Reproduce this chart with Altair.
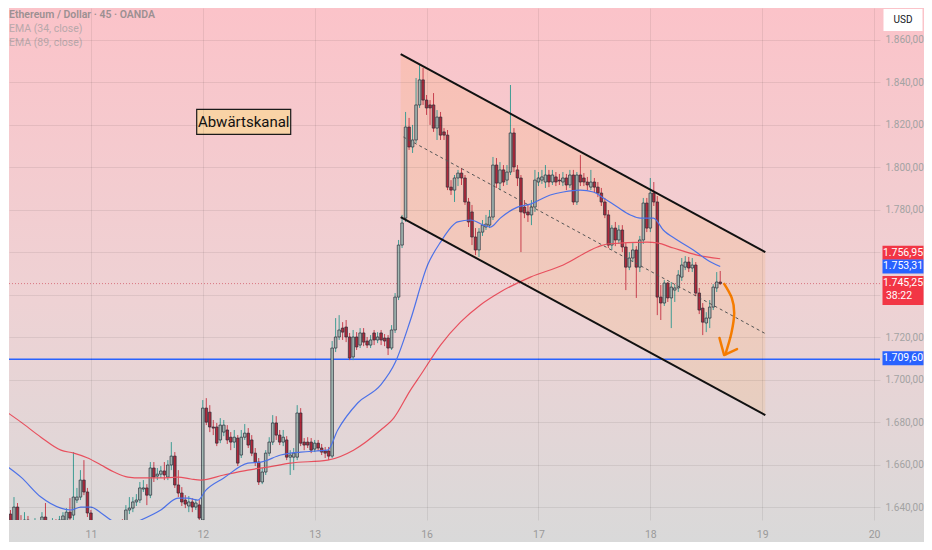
import altair as alt
import pandas as pd

# ---------------- axis ticks / labels ----------------
day_pos = [0, 32, 64, 96, 128, 160, 192, 224]
day_lab = ["11", "12", "13", "16", "17", "18", "19", "20"]
price_ticks = [1640, 1660, 1680, 1700, 1720, 1740, 1760, 1780, 1800, 1820, 1840, 1860]
hidden_ticks = [1740, 1760]

# ---------------- 45-minute candles (bar index, 32 bars per day) ----------------
first_bar = -25
opens = [
    1647.1, 1637.6, 1636.7, 1631.5, 1640.0, 1632.9, 1631.5, 1633.9, 1631.0, 1629.2,
    1632.0, 1630.1, 1635.3, 1631.5, 1630.6, 1632.9, 1631.0, 1633.9, 1631.5, 1637.6,
    1636.2, 1643.3, 1644.7, 1652.7, 1647.1,
    1637.2, 1631.5, 1629.2, 1631.0, 1627.7, 1626.3, 1628.7, 1626.8, 1629.6, 1631.0,
    1630.6, 1638.6, 1639.5, 1642.4, 1643.3, 1648.5, 1649.0, 1645.6, 1658.4, 1654.6,
    1655.5, 1657.0, 1654.1, 1659.8, 1664.0, 1650.4, 1646.6, 1643.3, 1640.5, 1642.4,
    1640.0, 1641.0, 1633.9, 1686.6, 1684.7, 1677.7, 1677.7, 1671.6, 1675.3, 1676.3,
    1672.9, 1670.6, 1672.5, 1664.5, 1672.9, 1674.8, 1671.6, 1665.4, 1661.2, 1651.8,
    1656.5, 1665.4, 1670.6, 1679.6, 1673.9, 1670.6, 1671.6, 1663.5, 1663.5, 1663.5,
    1684.3, 1670.6, 1670.6, 1670.6, 1667.3, 1670.1, 1667.8, 1666.4, 1666.4, 1664.0,
    1714.9, 1720.1, 1724.3, 1724.8, 1720.1, 1710.7, 1720.1, 1716.3, 1722.0, 1718.2,
    1716.3, 1722.0, 1718.7, 1722.0, 1719.6, 1719.6, 1714.9, 1723.4, 1738.9, 1763.4,
    1776.1, 1819.0, 1809.6, 1812.9, 1829.4, 1841.2, 1831.7, 1829.4, 1829.4, 1818.5,
    1823.7, 1816.7, 1815.2, 1790.7, 1789.3, 1795.0, 1797.3, 1795.0, 1783.7, 1779.0,
    1767.2, 1761.1, 1769.5, 1771.9, 1772.8, 1776.6, 1801.1, 1792.6, 1798.8, 1794.0,
    1797.8, 1816.2, 1798.8, 1795.0, 1781.3, 1779.0, 1777.6, 1781.3, 1793.1, 1794.0,
    1793.1, 1796.4, 1793.1, 1795.5, 1794.0, 1793.1, 1795.0, 1791.7, 1796.4, 1783.7,
    1796.4, 1795.0, 1793.1, 1790.7, 1793.1, 1790.7, 1787.9, 1783.7, 1777.6, 1763.4,
    1771.4, 1765.8, 1770.5, 1762.5, 1753.0, 1757.3, 1761.1, 1753.0, 1765.8, 1783.2,
    1771.4, 1787.9, 1783.7, 1738.9, 1736.1, 1745.5, 1738.5, 1742.2, 1743.2, 1748.3,
    1753.0, 1755.4, 1752.6, 1754.0, 1740.8, 1733.7, 1726.7, 1729.0, 1734.2, 1743.2,
    1746.0,
]
highs = [
    1649.0, 1640.9, 1638.6, 1644.7, 1641.9, 1636.2, 1637.6, 1635.8, 1632.9, 1634.8,
    1632.9, 1637.6, 1641.9, 1633.9, 1634.8, 1634.3, 1635.8, 1637.6, 1639.5, 1644.2,
    1665.9, 1649.0, 1657.4, 1662.1, 1649.0,
    1638.6, 1633.9, 1632.9, 1632.0, 1630.1, 1630.6, 1631.5, 1632.9, 1633.9, 1634.3,
    1640.9, 1644.7, 1644.7, 1646.1, 1651.8, 1652.7, 1650.8, 1661.2, 1661.2, 1658.4,
    1659.3, 1661.2, 1662.1, 1670.6, 1665.9, 1657.4, 1649.4, 1645.6, 1645.2, 1644.2,
    1643.8, 1643.3, 1690.4, 1691.3, 1688.0, 1681.0, 1679.6, 1681.9, 1681.0, 1678.6,
    1675.3, 1676.3, 1673.9, 1676.3, 1679.1, 1677.2, 1673.9, 1667.8, 1663.1, 1658.4,
    1666.8, 1672.9, 1683.3, 1682.8, 1676.3, 1676.3, 1673.4, 1666.8, 1667.8, 1688.0,
    1686.6, 1672.5, 1672.9, 1672.5, 1671.6, 1671.6, 1669.7, 1668.3, 1668.3, 1718.2,
    1729.0, 1730.4, 1727.1, 1728.1, 1722.0, 1723.4, 1722.4, 1724.3, 1724.3, 1720.1,
    1721.0, 1723.4, 1722.4, 1723.4, 1721.5, 1721.0, 1725.7, 1740.8, 1765.8, 1777.6,
    1826.1, 1823.3, 1820.0, 1842.1, 1848.2, 1846.8, 1834.1, 1831.7, 1835.0, 1827.0,
    1826.1, 1818.5, 1817.6, 1794.0, 1796.4, 1798.8, 1799.7, 1796.4, 1785.6, 1782.3,
    1771.4, 1771.4, 1775.2, 1777.6, 1779.9, 1804.9, 1804.4, 1802.5, 1801.1, 1801.1,
    1838.8, 1818.5, 1801.1, 1796.4, 1784.6, 1782.3, 1784.6, 1798.8, 1797.8, 1798.8,
    1801.1, 1798.8, 1798.8, 1797.8, 1796.9, 1797.8, 1796.9, 1798.8, 1798.8, 1797.8,
    1805.8, 1797.3, 1795.5, 1798.8, 1795.0, 1793.1, 1790.3, 1785.6, 1779.9, 1772.8,
    1774.3, 1772.8, 1772.8, 1764.4, 1760.1, 1764.4, 1762.9, 1767.7, 1785.6, 1785.6,
    1795.0, 1793.1, 1786.5, 1744.6, 1746.9, 1746.0, 1746.0, 1744.6, 1751.6, 1757.3,
    1758.2, 1757.8, 1757.3, 1755.4, 1743.2, 1736.1, 1731.8, 1737.5, 1745.0, 1750.7,
    1751.2,
]
lows = [
    1633.9, 1632.9, 1630.1, 1630.1, 1629.2, 1629.2, 1630.1, 1628.2, 1627.3, 1627.7,
    1628.7, 1629.2, 1630.1, 1628.7, 1629.2, 1629.6, 1630.1, 1632.0, 1630.6, 1632.9,
    1633.9, 1641.9, 1643.3, 1645.6, 1635.3,
    1629.2, 1626.3, 1626.8, 1624.4, 1623.5, 1624.4, 1624.4, 1625.4, 1627.7, 1628.2,
    1629.2, 1636.7, 1637.6, 1640.5, 1641.9, 1647.1, 1640.9, 1644.2, 1651.8, 1652.7,
    1653.7, 1652.7, 1652.7, 1657.4, 1649.0, 1644.7, 1640.5, 1639.5, 1637.6, 1637.6,
    1638.6, 1632.0, 1632.5, 1678.6, 1675.3, 1673.9, 1668.7, 1670.1, 1673.4, 1669.7,
    1666.8, 1667.8, 1659.3, 1663.1, 1671.6, 1667.8, 1664.0, 1659.3, 1650.4, 1650.8,
    1655.1, 1664.0, 1669.2, 1671.6, 1669.2, 1668.7, 1662.1, 1655.1, 1657.4, 1662.1,
    1668.7, 1666.8, 1667.8, 1665.4, 1665.9, 1666.4, 1664.5, 1663.1, 1662.1, 1663.1,
    1713.0, 1718.7, 1718.7, 1717.7, 1709.2, 1709.2, 1714.0, 1714.9, 1715.8, 1714.9,
    1714.9, 1716.3, 1717.2, 1716.3, 1715.8, 1711.6, 1714.0, 1722.0, 1737.5, 1762.0,
    1774.3, 1808.2, 1806.8, 1811.5, 1828.0, 1829.4, 1824.7, 1820.0, 1816.7, 1812.9,
    1812.9, 1812.9, 1789.3, 1787.0, 1783.7, 1791.2, 1791.7, 1782.3, 1771.9, 1763.4,
    1758.7, 1757.8, 1767.7, 1770.5, 1771.4, 1775.2, 1790.3, 1789.3, 1791.2, 1791.7,
    1796.4, 1797.8, 1791.2, 1760.1, 1776.1, 1774.3, 1772.8, 1779.0, 1791.2, 1792.2,
    1790.3, 1790.7, 1791.7, 1791.2, 1791.7, 1791.2, 1789.3, 1790.3, 1782.3, 1782.3,
    1791.2, 1791.2, 1789.3, 1789.3, 1788.4, 1786.0, 1781.8, 1776.1, 1762.0, 1761.1,
    1762.9, 1763.9, 1760.1, 1742.2, 1751.6, 1755.4, 1738.5, 1750.7, 1763.9, 1769.5,
    1769.5, 1781.8, 1730.4, 1728.1, 1734.7, 1736.6, 1724.3, 1736.6, 1741.3, 1746.5,
    1751.6, 1750.7, 1750.7, 1739.4, 1730.9, 1721.0, 1722.4, 1724.3, 1732.8, 1741.3,
    1744.6,
]
closes = [
    1636.2, 1634.8, 1632.0, 1640.0, 1631.5, 1631.5, 1633.9, 1631.0, 1629.2, 1632.0,
    1630.1, 1635.3, 1631.5, 1630.6, 1632.9, 1631.0, 1633.9, 1635.8, 1637.6, 1634.8,
    1644.7, 1644.7, 1652.7, 1647.1, 1637.2,
    1631.5, 1629.2, 1631.0, 1627.7, 1626.3, 1628.7, 1626.8, 1629.6, 1631.0, 1630.6,
    1638.6, 1639.5, 1642.4, 1643.3, 1649.0, 1649.0, 1645.6, 1658.4, 1654.1, 1655.5,
    1657.0, 1655.1, 1659.8, 1664.0, 1650.4, 1646.6, 1642.4, 1641.4, 1642.4, 1640.0,
    1641.9, 1634.8, 1686.6, 1680.0, 1677.7, 1677.2, 1670.1, 1678.6, 1678.6, 1671.6,
    1670.6, 1672.9, 1660.7, 1672.9, 1674.8, 1669.2, 1665.4, 1661.2, 1651.8, 1656.5,
    1665.4, 1670.6, 1679.6, 1673.9, 1670.6, 1672.9, 1663.5, 1664.5, 1665.4, 1684.3,
    1670.1, 1669.2, 1669.2, 1666.8, 1670.1, 1667.8, 1665.9, 1665.4, 1664.0, 1714.9,
    1720.1, 1723.4, 1722.4, 1720.1, 1710.2, 1720.1, 1715.4, 1722.0, 1717.7, 1716.3,
    1718.7, 1718.7, 1720.1, 1718.7, 1718.2, 1714.9, 1723.4, 1738.9, 1763.4, 1773.8,
    1819.0, 1809.6, 1812.9, 1829.4, 1841.2, 1831.7, 1828.0, 1828.0, 1818.5, 1823.7,
    1815.2, 1815.2, 1790.7, 1789.3, 1795.0, 1797.3, 1795.0, 1783.7, 1774.3, 1767.2,
    1761.1, 1769.5, 1772.8, 1773.3, 1776.6, 1801.1, 1792.6, 1798.8, 1793.1, 1797.8,
    1816.2, 1800.2, 1795.0, 1779.0, 1778.5, 1777.6, 1781.3, 1794.0, 1795.0, 1795.5,
    1796.4, 1793.1, 1796.4, 1793.1, 1793.6, 1795.0, 1791.7, 1796.4, 1783.7, 1796.4,
    1793.1, 1793.1, 1791.7, 1793.1, 1790.7, 1787.9, 1783.7, 1777.6, 1763.4, 1771.4,
    1765.8, 1770.5, 1762.5, 1753.0, 1757.3, 1761.1, 1753.0, 1765.8, 1783.2, 1771.4,
    1787.9, 1783.7, 1738.9, 1736.1, 1745.5, 1738.5, 1743.6, 1743.2, 1749.3, 1754.0,
    1755.4, 1752.6, 1754.0, 1740.8, 1732.8, 1727.1, 1729.0, 1734.2, 1743.6, 1746.0,
    1745.25,
]

# ---------------- EMA lines ----------------
ema34_i = [-25.7, -20, -14.3, -8.6, -5.7, -2.9, 0, 2.9, 5.7, 8.6, 11.4, 14.3, 20, 24.9,
           27.7, 30.6, 32.9, 38, 44.9, 48.6, 54.3, 60, 67.7, 70.6, 76.3, 82.9, 87.1, 91.4,
           96.3, 100, 104.9, 108.6, 112.3, 114.3, 117.1, 122, 125.7, 131.4, 135.1, 140,
           143.7, 146.6, 150.6, 154.3, 157.1, 160.9, 163.7, 167.7, 172.3, 176.3, 180]
ema34_p = [1661.2, 1654.1, 1644.7, 1639.5, 1638.6, 1640.0, 1640.0, 1637.2, 1633.9, 1632.0,
           1632.0, 1633.9, 1638.6, 1644.2, 1644.2, 1643.3, 1648.0, 1653.7, 1660.7, 1661.2,
           1664.5, 1665.9, 1666.8, 1676.3, 1689.0, 1697.5, 1708.3, 1728.1, 1754.0, 1764.8,
           1774.3, 1775.2, 1772.8, 1771.9, 1776.1, 1781.3, 1782.7, 1787.0, 1788.4, 1789.3,
           1788.4, 1785.6, 1781.3, 1777.6, 1776.1, 1776.1, 1770.5, 1765.8, 1761.1, 1756.4,
           1753.31]
ema89_i = [-25.7, -20, -14.3, -8.6, -4.9, -0.9, 2.9, 6.6, 10.6, 14.3, 20, 24.9, 28.6, 31.4,
           38, 44.9, 50.6, 57.1, 67.7, 75.1, 82.9, 86.6, 91.4, 94.3, 100, 105.7, 111.4,
           117.1, 125.7, 135.1, 144.9, 147.7, 159.1, 162, 166.6, 173.4, 180]
ema89_p = [1686.6, 1680.0, 1672.9, 1666.8, 1665.4, 1663.1, 1659.8, 1656.5, 1654.1, 1653.7,
           1653.7, 1654.1, 1653.2, 1652.7, 1655.1, 1657.4, 1658.8, 1660.7, 1662.1, 1666.8,
           1676.3, 1681.9, 1695.1, 1702.2, 1716.3, 1727.1, 1735.2, 1741.3, 1748.3, 1754.0,
           1762.5, 1763.9, 1764.8, 1764.4, 1762.0, 1758.7, 1756.95]

# ---------------- drawings ----------------
chan_i = [88.6, 192.9]
chan_upper = [1853.4, 1760.1]
chan_lower = [1776.6, 1683.3]
mid_i0, mid_p0, mid_i1, mid_p1 = 89.4, 1814.3, 192.9, 1721.7
support_level = 1709.60
last_price = 1745.25

arrow_i = [181.0, 183.3, 184.0, 183.2, 181.4]
arrow_p = [1745.5, 1738.5, 1731.4, 1722.0, 1711.6]
head_i = [179.8, 181.1, 184.8]
head_p = [1719.6, 1711.6, 1714.4]

label_text = "Abwärtskanal"
label_i, label_p = 43.7, 1821.4

tag_vals = [1756.95, 1753.31, 1745.25, 1709.60]
tag_text = ["1.756,95", "1.753,31", "1.745,25", "1.709,60"]
tag_sub = ["", "", "38:22", ""]
legend_lines = ["Ethereum / Dollar · 45 · OANDA", "EMA (34, close)", "EMA (89, close)"]

# ---------------- styles ----------------
tag_colors = ["#f23645", "#2962ff", "#f23645", "#2962ff"]
tag_shift = [-6, 0, 7, -1]
tag_h = [14, 14, 29, 14]
legend_colors = ["#9c9092", "#b8a8ab", "#b8a8ab"]
legend_y = [7, 21, 35]
FONT = "Roboto"
BODY_UP, BODY_DN = "#a3b8b3", "#b0283a"
WICK_UP, WICK_DN = "#3f9c94", "#c8414f"
EDGE = "#2a2e39"
RIGHT_EXT = 44
BOTTOM_EXT = 22

X_MIN, X_MAX = -23.43, 225.7
Y_MIN, Y_MAX = 1633.9, 1875.07
xs = alt.Scale(domain=[X_MIN, X_MAX], nice=False, zero=False)
ys = alt.Scale(domain=[Y_MIN, Y_MAX], nice=False, zero=False)


def box_path(w, h):
    r = h / w
    return f"M-1,{-r:.4f}L1,{-r:.4f}L1,{r:.4f}L-1,{r:.4f}Z"


x_label_expr = " : ".join(f"datum.value == {p} ? '{l}'" for p, l in zip(day_pos, day_lab)) + " : ''"
hide = " || ".join(f"datum.value == {v}" for v in hidden_ticks)
y_label_expr = (f"({hide}) ? '' : replace(replace(replace(format(datum.value, ',.2f'), ',', '#'), '.', ','), '#', '.')")

x_axis = alt.Axis(values=day_pos, labelExpr=x_label_expr, grid=True, ticks=False, domain=False,
                  labelColor="#9a9a9a", labelFontSize=10.5, labelPadding=9, labelFont=FONT,
                  gridColor="#000000", gridOpacity=0.07, title=None, zindex=1, labelFlush=False)
y_axis = alt.Axis(orient="right", values=price_ticks, labelExpr=y_label_expr, grid=True, ticks=False,
                  domain=False, labelColor="#a3a3a3", labelFontSize=10, labelPadding=5, labelFont=FONT,
                  gridColor="#000000", gridOpacity=0.07, title=None, zindex=1)


def X(field):
    return alt.X(field, scale=xs, axis=x_axis, title=None)


def Y(field):
    return alt.Y(field, scale=ys, axis=y_axis, title=None)


bars = pd.DataFrame({"i": list(range(first_bar, first_bar + len(opens))),
                     "o": opens, "h": highs, "l": lows, "c": closes})
cond = "datum.c >= datum.o"

bg_fill = {"gradient": "linear", "x1": 0, "x2": 0, "y1": 0, "y2": 1,
           "stops": [{"offset": 0, "color": "#fbc3c9"},
                     {"offset": 0.55, "color": "#eed2d4"},
                     {"offset": 1, "color": "#d9d9d9"}]}
bg = alt.Chart(alt.Data(values=[{"k": 0}])).mark_rect(
    x=0, x2={"expr": f"width + {RIGHT_EXT}"}, y=0, y2={"expr": f"height + {BOTTOM_EXT}"},
    fill=bg_fill, strokeWidth=0).encode(opacity=alt.value(1))

chan_df = pd.DataFrame({"i": chan_i, "up": chan_upper, "lo": chan_lower})
zone = alt.Chart(chan_df).mark_area(color="#ff9800", opacity=0.10, interpolate="linear").encode(
    x=X("i:Q"), y=Y("lo:Q"), y2="up:Q")

price_line = alt.Chart(pd.DataFrame({"p": [last_price]})).mark_rule(
    color="#d05060", strokeDash=[1, 2], strokeWidth=1, opacity=0.7).encode(y=Y("p:Q"))

support = alt.Chart(pd.DataFrame({"p": [support_level]})).mark_rule(
    color="#2962ff", strokeWidth=1.5).encode(y=Y("p:Q"))

wicks = alt.Chart(bars).mark_rule(strokeWidth=1, clip=True).encode(
    x=X("i:Q"), y=Y("l:Q"), y2="h:Q",
    color=alt.condition(cond, alt.value(WICK_UP), alt.value(WICK_DN)))

bodies = alt.Chart(bars).transform_calculate(
    xl="datum.i - 0.37", xr="datum.i + 0.37").mark_rect(
    stroke=EDGE, strokeWidth=0.7, clip=True).encode(
    x=X("xl:Q"), x2="xr:Q", y=Y("o:Q"), y2="c:Q",
    fill=alt.condition(cond, alt.value(BODY_UP), alt.value(BODY_DN)))

ema89 = alt.Chart(pd.DataFrame({"i": ema89_i, "p": ema89_p})).mark_line(
    color="#e8505e", strokeWidth=1.2, interpolate="monotone", clip=True).encode(x=X("i:Q"), y=Y("p:Q"))
ema34 = alt.Chart(pd.DataFrame({"i": ema34_i, "p": ema34_p})).mark_line(
    color="#4d72e8", strokeWidth=1.2, interpolate="monotone", clip=True).encode(x=X("i:Q"), y=Y("p:Q"))

upper_line = alt.Chart(chan_df).mark_line(color="#111111", strokeWidth=2).encode(x=X("i:Q"), y=Y("up:Q"))
lower_line = alt.Chart(chan_df).mark_line(color="#111111", strokeWidth=2).encode(x=X("i:Q"), y=Y("lo:Q"))
mid = alt.Chart(pd.DataFrame({"a": [mid_i0], "p0": [mid_p0], "b": [mid_i1], "p1": [mid_p1]})).mark_rule(
    color="#555555", strokeWidth=1, strokeDash=[3, 3]).encode(x=X("a:Q"), y=Y("p0:Q"), x2="b:Q", y2="p1:Q")

arrow = alt.Chart(pd.DataFrame({"i": arrow_i, "p": arrow_p, "k": list(range(len(arrow_i)))})).mark_line(
    color="#f57c00", strokeWidth=2.5, interpolate="cardinal").encode(x=X("i:Q"), y=Y("p:Q"), order="k:Q")
head = alt.Chart(pd.DataFrame({"i": head_i, "p": head_p, "k": list(range(len(head_i)))})).mark_line(
    color="#f57c00", strokeWidth=2.5, strokeJoin="round", strokeCap="round").encode(
    x=X("i:Q"), y=Y("p:Q"), order="k:Q")

lab_df = pd.DataFrame({"i": [label_i], "p": [label_p], "t": [label_text]})
lab_box = alt.Chart(lab_df).mark_point(
    shape=box_path(94, 25), size=94 ** 2, filled=True, fill="#f9d3a6", stroke="#1a1a1a",
    strokeWidth=1.2, opacity=1).encode(x=X("i:Q"), y=Y("p:Q"))
lab_txt = alt.Chart(lab_df).mark_text(font=FONT, fontSize=15, color="#111111").encode(
    x=X("i:Q"), y=Y("p:Q"), text="t:N")

layers = [bg, zone, price_line, support, wicks, bodies, ema89, ema34, upper_line, lower_line, mid,
          arrow, head, lab_box, lab_txt]

for v, t, s, col, dy, h in zip(tag_vals, tag_text, tag_sub, tag_colors, tag_shift, tag_h):
    d = pd.DataFrame({"p": [v], "t": [t], "s": [s]})
    layers.append(alt.Chart(d).mark_point(
        shape=box_path(41, h), size=41 ** 2, filled=True, fill=col, opacity=1, strokeWidth=0,
        x="width", xOffset=23, yOffset=dy).encode(y=Y("p:Q")))
    top = dy - (h - 14) / 2
    layers.append(alt.Chart(d).mark_text(
        font=FONT, fontSize=10.5, color="white", x="width", xOffset=23, yOffset=top,
        align="center", baseline="middle").encode(y=Y("p:Q"), text="t:N"))
    if s:
        layers.append(alt.Chart(d).mark_text(
            font=FONT, fontSize=10.5, color="white", x="width", xOffset=19, yOffset=top + 13,
            align="center", baseline="middle").encode(y=Y("p:Q"), text="s:N"))

usd = pd.DataFrame({"t": ["USD"]})
layers.append(alt.Chart(usd).mark_point(
    shape=box_path(39, 22), size=39 ** 2, filled=True, fill="white", opacity=1, strokeWidth=0,
    x="width", xOffset=23, y=12).encode(opacity=alt.value(1)))
layers.append(alt.Chart(usd).mark_text(
    font=FONT, fontSize=10, color="#131722", x="width", xOffset=23, y=12,
    align="center", baseline="middle").encode(text="t:N"))

for line, col, yy in zip(legend_lines, legend_colors, legend_y):
    layers.append(alt.Chart(pd.DataFrame({"t": [line]})).mark_text(
        font=FONT, fontSize=10.5, color=col, x=0, y=yy, align="left", baseline="middle",
        fontWeight=600 if yy == legend_y[0] else 400).encode(text="t:N"))

chart = alt.layer(*layers).properties(
    width=916, height=534, padding=0,
    autosize=alt.AutoSizeParams(type="fit", contains="padding"),
).configure_view(stroke=None)

chart.save("out.html", embed_options={"renderer": "svg", "actions": False})
